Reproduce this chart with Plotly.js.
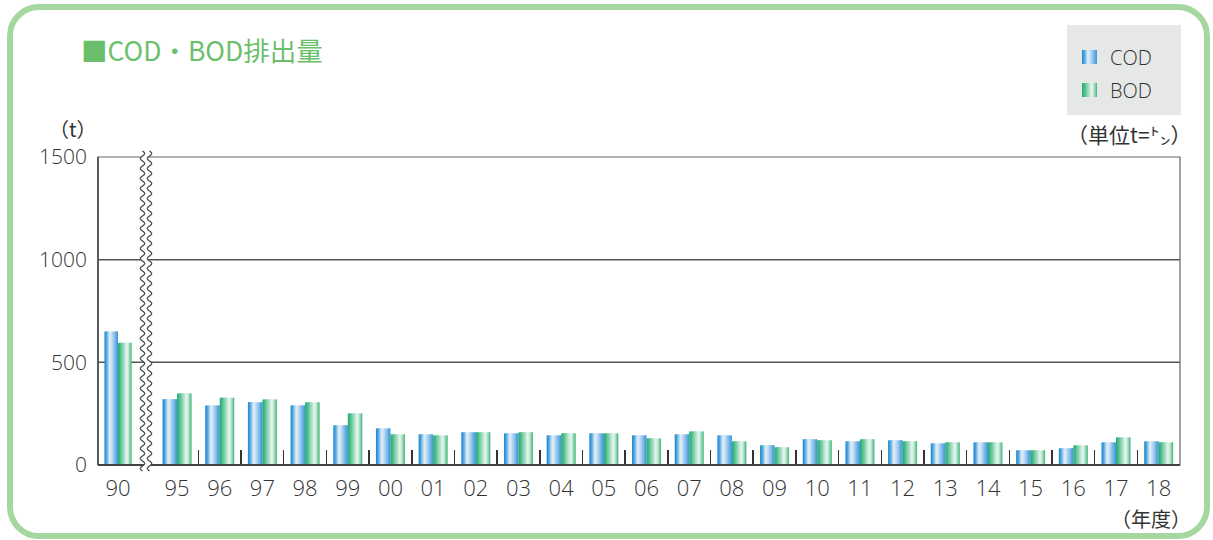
<!DOCTYPE html>
<html><head><meta charset="utf-8">
<script src="https://cdn.plot.ly/plotly-3.0.1.min.js"></script>
<style>
html,body{margin:0;padding:0;background:#fff;}
#frame{position:absolute;left:7px;top:4px;width:1203px;height:535px;box-sizing:border-box;border:6px solid #a7d7a1;border-radius:32px;}
#chart{position:absolute;left:0;top:0;width:1213px;height:540px;}
</style></head><body>
<div id="frame"></div><div id="chart"></div>
<script>
// ---- data ----
const yearsEarly = ['90'];
const codEarly = [650];
const bodEarly = [595];
const years = ['95','96','97','98','99','00','01','02','03','04','05','06','07','08','09','10','11','12','13','14','15','16','17','18'];
const cod = [320,290,305,290,193,178,149,159,154,144,154,144,149,144,96,125,115,120,105,110,71,81,110,115];
const bod = [348,328,319,305,251,149,144,159,159,154,154,129,163,115,86,120,125,115,110,110,71,95,134,110];
const yTicks = [0,500,1000,1500];
const seriesNames = ['COD','BOD'];

// ---- styles ----
// gradient stops [position, [r,g,b]]
const codStops = [[0,[28,136,209]],[0.12,[60,156,218]],[0.40,[234,243,251]],[0.70,[150,196,236]],[1,[52,150,218]]];
const bodStops = [[0,[36,172,112]],[0.12,[60,182,128]],[0.66,[238,248,242]],[0.86,[150,214,180]],[1,[48,178,122]]];
const NSTRIP = 12;
const textColor = '#333333';
const latin = '"Open Sans", "Noto Sans", sans-serif';
const cjk = '"Noto Sans CJK JP", "Noto Sans", sans-serif';

function gradColors(stops, n) {
  const out = [];
  for (let i = 0; i < n; i++) {
    const t = (i + 0.5) / n;
    let k = 0;
    while (k < stops.length - 2 && t > stops[k + 1][0]) k++;
    const [p0, c0] = stops[k], [p1, c1] = stops[k + 1];
    const f = (t - p0) / (p1 - p0);
    const c = c0.map((v, j) => Math.round(v + (c1[j] - v) * f));
    out.push('rgb(' + c.join(',') + ')');
  }
  return out;
}
const codColors = gradColors(codStops, NSTRIP);
const bodColors = gradColors(bodStops, NSTRIP);

// plot area in px
const L = 98, R = 1180, T = 157, B = 465;
const W = R - L, H = B - T;
const xp = px => (px - L) / W;
const yp = py => (B - py) / H;

function strips(xs, vals, colors, side, xa, name) {
  const n = colors.length, bw = 0.34, sw = bw / n;
  return colors.map((c, i) => ({
    type: 'bar', x: xs, y: vals, xaxis: xa, yaxis: 'y', name: name,
    width: i < n - 1 ? sw * 1.8 : sw,
    offset: (side < 0 ? -bw : 0) + i * sw,
    marker: {color: c, line: {width: 0}},
    showlegend: false, hovertemplate: name + ' %{x}: %{y}<extra></extra>'
  }));
}

const traces = [
  ...strips(yearsEarly, codEarly, codColors, -1, 'x', seriesNames[0]),
  ...strips(yearsEarly, bodEarly, bodColors, 1, 'x', seriesNames[1]),
  ...strips(years, cod, codColors, -1, 'x2', seriesNames[0]),
  ...strips(years, bod, bodColors, 1, 'x2', seriesNames[1])
];

// wavy break
function wave(cx, y0, y1, amp, per) {
  const pts = [];
  for (let py = y0; py <= y1; py += 0.5) {
    pts.push([cx + amp * Math.sin(2 * Math.PI * (py - y0) / per), py]);
  }
  return pts;
}
const w1 = wave(142.5, 151, 471, 2.2, 10);
const w2 = wave(149.5, 151, 471, 2.2, 10);
const toPath = pts => pts.map((p, i) => (i ? 'L' : 'M') + xp(p[0]).toFixed(5) + ',' + yp(p[1]).toFixed(5)).join(' ');
const fillPath = toPath(w1.concat(w2.slice().reverse())) + ' Z';

const shapes = [];
// gridlines
[500, 1000].forEach(v => shapes.push({type: 'line', xref: 'paper', yref: 'y', x0: 0, x1: 1, y0: v, y1: v, line: {color: '#555', width: 1.5}, layer: 'below'}));
// frame
shapes.push({type: 'rect', xref: 'paper', yref: 'paper', x0: 0, x1: 1, y0: 0, y1: 1, line: {color: '#666', width: 1.2}, layer: 'above'});
shapes.push({type: 'line', xref: 'paper', yref: 'paper', x0: 0, x1: 1, y0: 0, y1: 0, line: {color: '#444', width: 2}, layer: 'above'});
shapes.push({type: 'line', xref: 'paper', yref: 'paper', x0: 0, x1: 0, y0: 0, y1: 1, line: {color: '#444', width: 1.5}, layer: 'above'});
// break
shapes.push({type: 'path', xref: 'paper', yref: 'paper', path: fillPath, fillcolor: '#ffffff', line: {width: 0}, layer: 'above'});
shapes.push({type: 'path', xref: 'paper', yref: 'paper', path: toPath(w1), line: {color: '#444', width: 1.2}, layer: 'above'});
shapes.push({type: 'path', xref: 'paper', yref: 'paper', path: toPath(w2), line: {color: '#444', width: 1.2}, layer: 'above'});
// legend box
shapes.push({type: 'rect', xref: 'paper', yref: 'paper', x0: xp(1067), x1: xp(1181), y0: yp(115), y1: yp(25), fillcolor: '#e6e7e7', line: {width: 0}, layer: 'above'});
function legendSquare(colors, top, bottom) {
  const n = colors.length, x0 = 1082, x1 = 1097, sw = (x1 - x0) / n;
  colors.forEach((c, i) => shapes.push({type: 'rect', xref: 'paper', yref: 'paper',
    x0: xp(x0 + i * sw), x1: xp(x0 + (i + 1) * sw + (i < n - 1 ? 0.6 : 0)), y0: yp(bottom), y1: yp(top),
    fillcolor: c, line: {width: 0}, layer: 'above'}));
}
legendSquare(codColors, 50, 64);
legendSquare(bodColors, 83, 97);

const annotations = [
  {text: seriesNames[0], xref: 'paper', yref: 'paper', x: xp(1108), y: yp(57), xanchor: 'left', yanchor: 'middle', showarrow: false, font: {family: latin, size: 20, weight: 300, color: textColor}},
  {text: seriesNames[1], xref: 'paper', yref: 'paper', x: xp(1108), y: yp(90), xanchor: 'left', yanchor: 'middle', showarrow: false, font: {family: latin, size: 20, weight: 300, color: textColor}},
  {text: '（t）', xref: 'paper', yref: 'paper', x: xp(73), y: yp(128), xanchor: 'center', yanchor: 'middle', showarrow: false, borderpad: 0, font: {family: cjk, size: 20, color: textColor}},
  {text: '（単位t=㌧）', xref: 'paper', yref: 'paper', x: xp(1194), y: yp(134), xanchor: 'right', yanchor: 'middle', showarrow: false, font: {family: cjk, size: 21, color: textColor}},
  {text: '（年度）', xref: 'paper', yref: 'paper', x: xp(1193), y: yp(518), xanchor: 'right', yanchor: 'middle', showarrow: false, font: {family: cjk, size: 20, color: textColor}}
];

const tickFontX = {family: latin, size: 22, weight: 300, color: textColor};
const layout = {
  width: 1213, height: 540,
  margin: {l: L, r: 1213 - R, t: T, b: 540 - B, pad: 0},
  paper_bgcolor: 'rgba(0,0,0,0)', plot_bgcolor: 'rgba(0,0,0,0)',
  barmode: 'overlay', showlegend: false,
  title: {text: '■COD・BOD排出量', xref: 'container', yref: 'container', x: 81 / 1213, y: 1 - 52 / 540, xanchor: 'left', yanchor: 'middle',
    font: {family: cjk, size: 26.5, color: '#6bbf6b'}},
  xaxis: {domain: [0, 40 / W], type: 'category', categoryarray: yearsEarly, range: [-0.5, 0.5], anchor: 'y',
    ticks: '', showline: false, showgrid: false, zeroline: false, fixedrange: true, ticklabelstandoff: 8,
    tickfont: tickFontX},
  xaxis2: {domain: [57.7 / W, 1], type: 'category', categoryarray: years, range: [-0.5, years.length - 0.5], anchor: 'y',
    ticks: 'inside', tickson: 'boundaries', ticklen: 15, tickwidth: 1.5, tickcolor: '#333', ticklabelstandoff: 8,
    showline: false, showgrid: false, zeroline: false, fixedrange: true,
    tickfont: tickFontX},
  yaxis: {range: [0, 1500], tickvals: yTicks, ticktext: yTicks.map(String), ticks: '', showline: false, showgrid: false, zeroline: false,
    ticklabelstandoff: 10, fixedrange: true, tickfont: {family: latin, size: 21, weight: 300, color: textColor}},
  shapes: shapes, annotations: annotations
};

Plotly.newPlot('chart', traces, layout, {displayModeBar: false, staticPlot: true});
</script>
</body></html>
